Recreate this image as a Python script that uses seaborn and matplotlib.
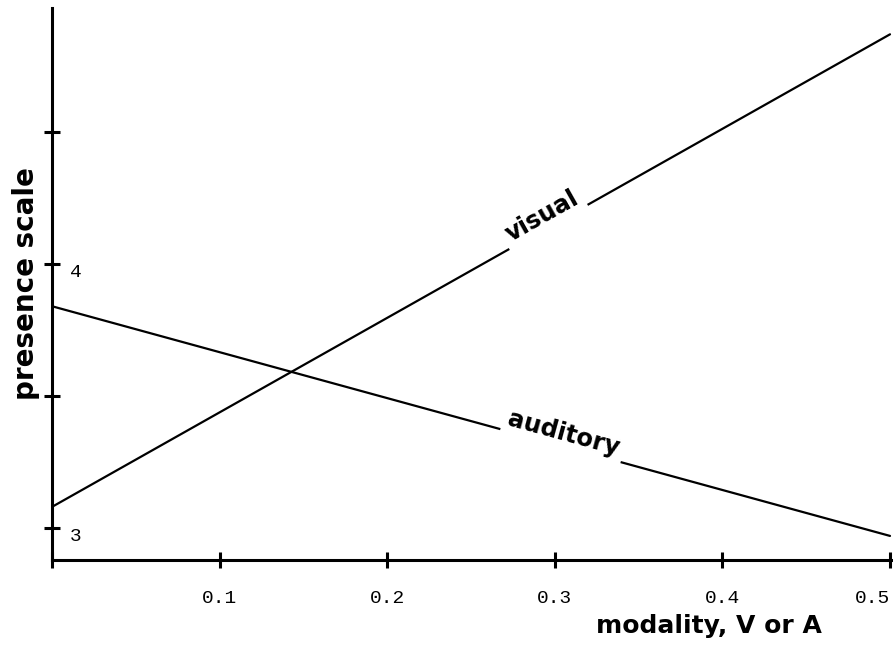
import matplotlib
matplotlib.use("Agg")
import matplotlib.pyplot as plt
import numpy as np
import pandas as pd
import seaborn as sns

# Fitted presence ratings at the two ends of the modality range
modality = [0.0, 0.5]
visual = [3.08, 4.87]
auditory = [3.84, 2.97]
series_names = ["visual", "auditory"]

x_ticks = [0.0, 0.1, 0.2, 0.3, 0.4, 0.5]
x_tick_labels = ["", "0.1", "0.2", "0.3", "0.4", "0.5"]
y_ticks = [3.0, 3.5, 4.0, 4.5]
y_tick_labels = ["3", "", "4", ""]

# where each series name sits along its line (x in data units)
label_x = {"visual": 0.2962, "auditory": 0.3034}

sns.set_theme(style="white")
plt.rcParams["font.family"] = ["DejaVu Sans"]

df = pd.DataFrame({
    "modality": modality * 2,
    "presence": visual + auditory,
    "sense": [series_names[0]] * len(modality) + [series_names[1]] * len(modality),
})

W, H = 893, 647
fig = plt.figure(figsize=(W / 100, H / 100), dpi=100)
ax = fig.add_axes([52 / W, 87 / H, 841 / W, 552 / H])

sns.lineplot(data=df, x="modality", y="presence", hue="sense",
             palette={"visual": "black", "auditory": "black"},
             linewidth=1.6, legend=False, ax=ax)

ax.set_xlim(0.0, 0.5 * 841 / 838)
ax.set_ylim(3 - 32 / 264, 3 + 520 / 264)

for side in ("top", "right"):
    ax.spines[side].set_visible(False)
for side in ("left", "bottom"):
    ax.spines[side].set_linewidth(2.2)
    ax.spines[side].set_color("black")

ax.set_xticks(x_ticks)
ax.set_xticklabels(x_tick_labels)
ax.set_yticks(y_ticks)
ax.set_yticklabels(y_tick_labels)
ax.tick_params(axis="both", direction="inout", length=11, width=2.2,
               color="black", labelcolor="black", bottom=True, left=True,
               labelsize=14, labelfontfamily="Liberation Mono")
ax.tick_params(axis="x", pad=16)
ax.tick_params(axis="y", pad=-18.5)
plt.setp(ax.get_yticklabels(), ha="left", va="top")
# the last x label is kept inside the figure edge
ax.get_xticklabels()[-1].set_ha("right")

ax.set_xlabel("modality, V or A", fontsize=18, fontweight="bold", color="black")
ax.set_ylabel("presence scale", fontsize=20, fontweight="bold", color="black")
ax.xaxis.set_label_coords(0.7806, -0.098)
ax.yaxis.set_label_coords(-0.0143, 0.5)

# series names written along their lines, cutting through them
for name, ys in zip(series_names, (visual, auditory)):
    x0 = label_x[name]
    y0 = np.interp(x0, modality, ys)
    p1 = ax.transData.transform((modality[0], ys[0]))
    p2 = ax.transData.transform((modality[-1], ys[-1]))
    angle = np.degrees(np.arctan2(p2[1] - p1[1], p2[0] - p1[0]))
    ax.text(x0, y0, name, rotation=angle, rotation_mode="anchor",
            ha="center", va="bottom", fontsize=17.5, fontweight="bold",
            color="black",
            bbox=dict(boxstyle="square,pad=0.2", facecolor="white",
                      edgecolor="none"))

fig.savefig("out.png", dpi=100, facecolor="white")
